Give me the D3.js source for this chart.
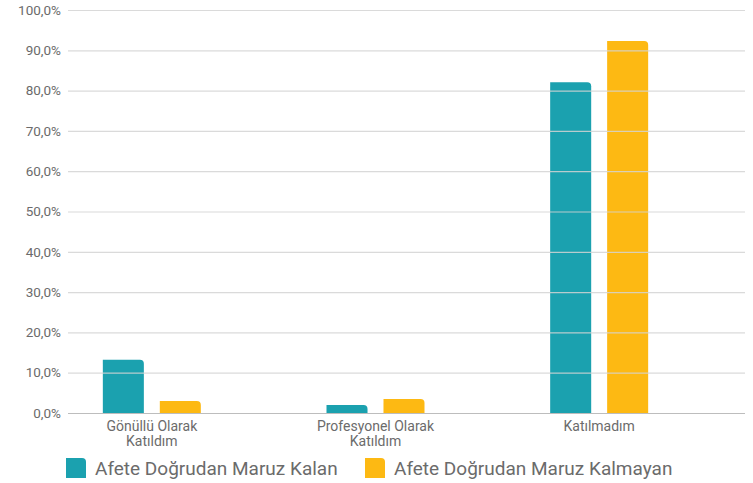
<!DOCTYPE html>
<html><head><meta charset="utf-8">
<script src="https://cdn.jsdelivr.net/npm/d3@7"></script>
<style>body{margin:0;background:#fff}svg{display:block}text{font-family:"Roboto","DejaVu Sans",sans-serif}</style>
</head><body><svg id="c" width="753" height="483"></svg>
<script>
const categories = [["Gönüllü Olarak","Katıldım"],["Profesyonel Olarak","Katıldım"],["Katılmadım"]];
const seriesNames = ["Afete Doğrudan Maruz Kalan","Afete Doğrudan Maruz Kalmayan"];
const exposed = [13.2, 2.0, 82.1];
const notExposed = [3.0, 3.5, 92.3];
const yTicks = [0,10,20,30,40,50,60,70,80,90,100];
const colors = ["#1BA1AF","#FDB913"];

const svg = d3.select("#c");
const gridL = 68, gridR = 745, plotTop = 10, plotBottom = 413;
const y = d3.scaleLinear().domain([0,100]).range([plotBottom, plotTop]);
const x = d3.scaleBand().domain(d3.range(categories.length)).range([40, 711]).paddingInner(0).paddingOuter(0);
const xs = d3.scaleBand().domain([0,1]).range([0,98]).paddingInner(0.28);
const fmt = v => d3.format(".1f")(v).replace(".", ",") + "%";

const series = [exposed, notExposed];
function barPath(x0, y0, w, h, r){
  r = Math.min(r, h, w);
  return `M${x0},${y0+h}V${y0}H${x0+w-r}Q${x0+w},${y0} ${x0+w},${y0+r}V${y0+h}Z`;
}
series.forEach((vals, si) => {
  svg.append("g").selectAll("path").data(vals).join("path")
    .attr("fill", colors[si])
    .attr("d", (v,i) => {
      const cx = x(i) + x.bandwidth()/2 - 49 + xs(si);
      return barPath(cx, y(v), xs.bandwidth(), plotBottom - y(v), 4);
    });
});
svg.append("g").selectAll("line").data(yTicks.filter(t=>t>0)).join("line")
  .attr("x1", gridL).attr("x2", gridR)
  .attr("y1", d=>y(d)+0.5).attr("y2", d=>y(d)+0.5)
  .attr("stroke", "#d4d4d4").attr("stroke-width", 1.2).attr("stroke-opacity", 0.85);
svg.append("line").attr("x1", gridL).attr("x2", gridR).attr("y1", plotBottom+0.5).attr("y2", plotBottom+0.5)
  .attr("stroke", "#bdbdbd").attr("stroke-width", 1.2);
svg.append("g").selectAll("text").data(yTicks).join("text")
  .attr("x", 61).attr("y", d=>y(d)).attr("dy","0.35em").attr("text-anchor","end")
  .attr("font-size", 13.5).attr("fill", "#6b6b6b").text(fmt);
const xl = svg.append("g").selectAll("text").data(categories).join("text")
  .attr("text-anchor","middle").attr("font-size", 14).attr("fill","#6b6b6b")
  .attr("transform", (d,i)=>`translate(${x(i)+x.bandwidth()/2},431)`);
xl.selectAll("tspan").data(d=>d).join("tspan").attr("x",0).attr("dy",(d,j)=>j? "1.1em":0).text(d=>d);
const lg = svg.append("g").selectAll("g").data(seriesNames).join("g")
  .attr("transform",(d,i)=>`translate(${i?365:66},458)`);
lg.append("path").attr("d", barPath(0,0,20,20,4)).attr("fill",(d,i)=>colors[i]);
lg.append("text").attr("x",29).attr("y",17).attr("font-size",19).attr("fill","#6b6b6b").text(d=>d);
</script></body></html>
